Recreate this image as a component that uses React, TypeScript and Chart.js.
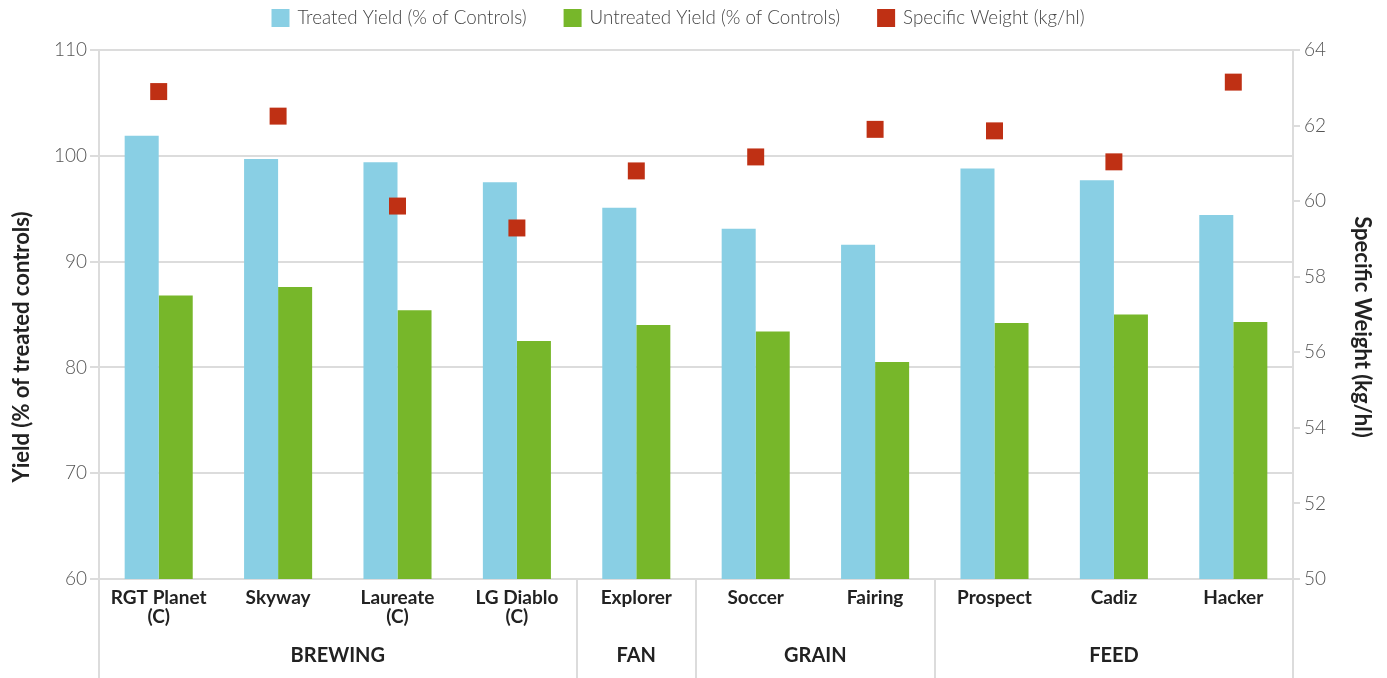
import React, { useEffect, useRef } from "react";
import { Chart, registerables } from "chart.js";

Chart.register(...registerables);

const categoryLabels: (string | string[])[] = [
  ["RGT Planet", "(C)"],
  "Skyway",
  ["Laureate", "(C)"],
  ["LG Diablo", "(C)"],
  "Explorer",
  "Soccer",
  "Fairing",
  "Prospect",
  "Cadiz",
  "Hacker",
];

const treatedYield = [101.9, 99.7, 99.4, 97.5, 95.1, 93.1, 91.6, 98.8, 97.7, 94.4];
const untreatedYield = [86.8, 87.6, 85.4, 82.5, 84.0, 83.4, 80.5, 84.2, 85.0, 84.3];
const specificWeight = [62.9, 62.25, 59.87, 59.29, 60.8, 61.17, 61.9, 61.86, 61.04, 63.15];

const groupNames = ["BREWING", "FAN", "GRAIN", "FEED"];
const groupSizes = [4, 1, 2, 3];

const yTicks = [60, 70, 80, 90, 100, 110];
const y1Ticks = [50, 52, 54, 56, 58, 60, 62, 64];

const leftTitle = "Yield (% of treated controls)";
const rightTitle = "Specific Weight (kg/hl)";

const FONT = "Lato, 'Open Sans', sans-serif";

const groupPlugin = {
  id: "groupPlugin",
  afterDraw(chart: any) {
    const { ctx, chartArea, scales } = chart;
    const x = scales.x;
    const step = x.getPixelForValue(1) - x.getPixelForValue(0);
    const boundary = (i: number) => x.getPixelForValue(i) - step / 2;
    const bottom = chart.height;
    ctx.save();
    ctx.strokeStyle = "#dcdcdc";
    ctx.lineWidth = 2;
    let idx = 0;
    const bounds = [0];
    groupSizes.forEach((s) => {
      idx += s;
      bounds.push(idx);
    });
    bounds.forEach((b) => {
      const px = Math.round(boundary(b));
      ctx.beginPath();
      ctx.moveTo(px, chartArea.bottom);
      ctx.lineTo(px, bottom);
      ctx.stroke();
    });
    ctx.fillStyle = "#222";
    ctx.font = `bold 20px ${FONT}`;
    ctx.textAlign = "center";
    ctx.textBaseline = "middle";
    groupNames.forEach((name, gi) => {
      const mid = (boundary(bounds[gi]) + boundary(bounds[gi + 1])) / 2;
      ctx.fillText(name, mid, 656);
    });

    // axis titles
    ctx.font = `bold 22px ${FONT}`;
    ctx.save();
    ctx.translate(22, 347);
    ctx.rotate(-Math.PI / 2);
    ctx.fillText(leftTitle, 0, 0);
    ctx.restore();
    ctx.save();
    ctx.translate(1362, 327);
    ctx.rotate(Math.PI / 2);
    ctx.fillText(rightTitle, 0, 0);
    ctx.restore();
    ctx.restore();
  },
};

const legendPlugin = {
  id: "customLegend",
  afterDraw(chart: any) {
    const { ctx } = chart;
    const order = [1, 2, 0];
    const box = 18;
    const gapText = 8;
    const gapItem = 37;
    ctx.save();
    ctx.font = `300 18.8px ${FONT}`;
    const items = order.map((i) => {
      const ds = chart.data.datasets[i];
      const w = ctx.measureText(ds.label).width;
      return { label: ds.label as string, color: ds.backgroundColor as string, w };
    });
    const total =
      items.reduce((s, it) => s + box + gapText + it.w, 0) + gapItem * (items.length - 1);
    let x = 678 - total / 2;
    const cy = 18;
    ctx.textAlign = "left";
    ctx.textBaseline = "middle";
    items.forEach((it) => {
      ctx.fillStyle = it.color;
      ctx.fillRect(x, cy - box / 2, box, box);
      x += box + gapText;
      ctx.fillStyle = "#444";
      ctx.fillText(it.label, x, cy);
      x += it.w + gapItem;
    });
    ctx.restore();
  },
};

export default function App() {
  const canvasRef = useRef<HTMLCanvasElement | null>(null);

  useEffect(() => {
    document.body.style.margin = "0";
    const canvas = canvasRef.current;
    if (!canvas) return;
    const chart = new Chart(canvas, {
      type: "bar",
      data: {
        labels: categoryLabels as any,
        datasets: [
          {
            type: "line",
            label: "Specific Weight (kg/hl)",
            data: specificWeight,
            yAxisID: "y1",
            showLine: false,
            pointStyle: "rect",
            pointRadius: 12,
            pointHoverRadius: 12,
            pointBorderWidth: 0,
            backgroundColor: "#BF3014",
            borderColor: "#BF3014",
            borderWidth: 0,
            order: 0,
          } as any,
          {
            label: "Treated Yield (% of Controls)",
            data: treatedYield,
            backgroundColor: "#89CFE4",
            yAxisID: "y",
            categoryPercentage: 0.57,
            barPercentage: 1.0,
            order: 1,
          },
          {
            label: "Untreated Yield (% of Controls)",
            data: untreatedYield,
            backgroundColor: "#77B72A",
            yAxisID: "y",
            categoryPercentage: 0.57,
            barPercentage: 1.0,
            order: 1,
          },
        ],
      },
      options: {
        animation: false,
        responsive: false,
        maintainAspectRatio: false,
        layout: { padding: { top: 50, left: 0, right: 0, bottom: 0 } },
        plugins: {
          tooltip: { enabled: false },
          legend: { display: false },
        },
        scales: {
          x: {
            grid: { display: false, drawTicks: false },
            border: { display: false },
            ticks: {
              color: "#222",
              font: { family: FONT, size: 19, weight: "bold" as any, lineHeight: 1.0 },
              padding: 9,
              maxRotation: 0,
              autoSkip: false,
            },
            afterFit(scale: any) {
              scale.height = 99;
            },
          },
          y: {
            position: "left",
            min: 60,
            max: 110,
            afterBuildTicks(scale: any) {
              scale.ticks = yTicks.map((v) => ({ value: v }));
            },
            grid: { color: "#dcdcdc", lineWidth: 2, tickLength: 9 },
            border: { display: true, color: "#dcdcdc", width: 2 },
            ticks: {
              color: "#555",
              font: { family: FONT, size: 19, weight: "300" as any },
              padding: 3,
            },
            afterFit(scale: any) {
              scale.width = 99;
            },
          },
          y1: {
            position: "right",
            min: 50,
            max: 64,
            afterBuildTicks(scale: any) {
              scale.ticks = y1Ticks.map((v) => ({ value: v }));
            },
            grid: { drawOnChartArea: false, color: "#dcdcdc", lineWidth: 2, tickLength: 7 },
            border: { display: true, color: "#dcdcdc", width: 2 },
            ticks: {
              color: "#555",
              font: { family: FONT, size: 19, weight: "300" as any },
              padding: 4,
            },
            afterFit(scale: any) {
              scale.width = 94;
            },
          },
        },
      },
      plugins: [groupPlugin, legendPlugin],
    });
    return () => chart.destroy();
  }, []);

  return (
    <div style={{ width: 1387, height: 678, position: "relative" }}>
      <canvas ref={canvasRef} width={1387} height={678} style={{ display: "block" }} />
    </div>
  );
}
